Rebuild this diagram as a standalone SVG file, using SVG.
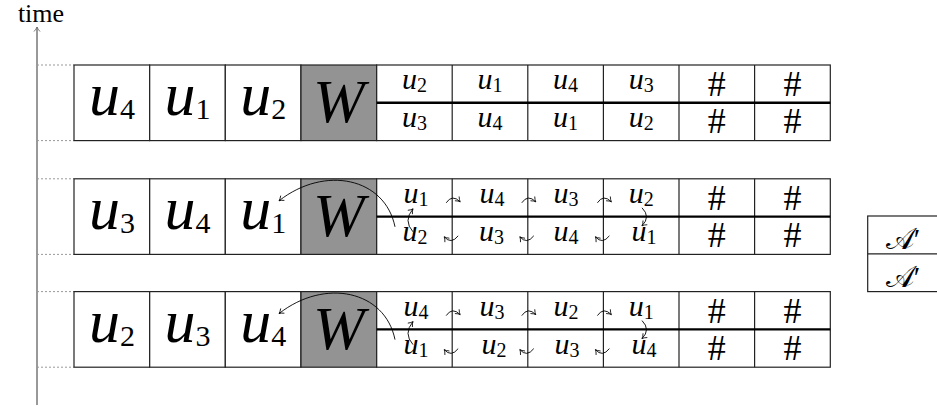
<svg xmlns="http://www.w3.org/2000/svg" width="937" height="406" viewBox="0 0 937 406">
<defs>
<style>
.c{fill:#fff;stroke:#222;stroke-width:1.2}
.w{fill:#939393;stroke:#222;stroke-width:1.2}
.mid{stroke:#000;stroke-width:2.4}
.big{font-size:62px;text-anchor:middle}
.v,.W{font-style:italic}
.big .s{font-size:30px}
.W{font-size:62px;text-anchor:middle}
.sm{font-size:30px;text-anchor:middle}
.sm .s{font-size:20px}
.h{font-size:36px;text-anchor:middle}
.dot{stroke:#999;stroke-width:1;stroke-dasharray:2 2}
.arr{fill:none;stroke:#000;stroke-width:0.9;marker-end:url(#ah)}
</style>
<marker id="ah" viewBox="-6 -4 8 8" refX="0" refY="0" markerWidth="8" markerHeight="8" markerUnits="userSpaceOnUse" orient="auto"><path d="M-4.5,-3 Q-2,-0.6 0,0 Q-2,0.6 -4.5,3" fill="none" stroke="#000" stroke-width="0.8"/></marker>
<marker id="ahg" viewBox="-6 -4 8 8" refX="0" refY="0" markerWidth="8" markerHeight="8" markerUnits="userSpaceOnUse" orient="auto"><path d="M-4.5,-3 Q-2,-0.6 0,0 Q-2,0.6 -4.5,3" fill="none" stroke="#777" stroke-width="1"/></marker>
</defs>
<rect width="937" height="406" fill="#fff"/>
<g font-family="'Liberation Serif', 'Times New Roman', serif" fill="#000">
<g id="axis">
<line x1="37" y1="405" x2="37" y2="27" stroke="#777" stroke-width="1.5" marker-end="url(#ahg)"/>
<text x="41" y="22" font-size="26" text-anchor="middle">time</text>
<line class="dot" x1="37" y1="65" x2="74" y2="65"/>
<line class="dot" x1="37" y1="140.6" x2="74" y2="140.6"/>
<line class="dot" x1="37" y1="178.8" x2="74" y2="178.8"/>
<line class="dot" x1="37" y1="254.4" x2="74" y2="254.4"/>
<line class="dot" x1="37" y1="291.6" x2="74" y2="291.6"/>
<line class="dot" x1="37" y1="367.2" x2="74" y2="367.2"/>
</g>
<g id="row1" transform="translate(0,65)">
<rect class="c" x="74" y="0" width="75.6" height="75.6"/>
<rect class="c" x="149.7" y="0" width="75.6" height="75.6"/>
<rect class="c" x="225.3" y="0" width="75.6" height="75.6"/>
<rect class="w" x="301" y="0" width="75.6" height="75.6"/>
<rect class="c" x="376.7" y="0" width="453.6" height="75.6"/>
<path d="M452.2,0V75.6M527.8,0V75.6M603.4,0V75.6M679,0V75.6M754.6,0V75.6" stroke="#222" stroke-width="1.2"/>
<line class="mid" x1="376.7" y1="37.8" x2="830.3" y2="37.8"/>
<text class="big" x="111.9" y="50"><tspan class="v">u</tspan><tspan class="s" dy="4">4</tspan></text>
<text class="big" x="187.5" y="50"><tspan class="v">u</tspan><tspan class="s" dy="4">1</tspan></text>
<text class="big" x="263.2" y="50"><tspan class="v">u</tspan><tspan class="s" dy="4">2</tspan></text>
<text class="W" x="338.9" y="57">W</text>
<text class="sm" x="414.5" y="24"><tspan class="v">u</tspan><tspan class="s" dy="3">2</tspan></text>
<text class="sm" x="490" y="24"><tspan class="v">u</tspan><tspan class="s" dy="3">1</tspan></text>
<text class="sm" x="565.6" y="24"><tspan class="v">u</tspan><tspan class="s" dy="3">4</tspan></text>
<text class="sm" x="641.2" y="24"><tspan class="v">u</tspan><tspan class="s" dy="3">3</tspan></text>
<text class="sm" x="414.5" y="62.3"><tspan class="v">u</tspan><tspan class="s" dy="3">3</tspan></text>
<text class="sm" x="490" y="62.3"><tspan class="v">u</tspan><tspan class="s" dy="3">4</tspan></text>
<text class="sm" x="565.6" y="62.3"><tspan class="v">u</tspan><tspan class="s" dy="3">1</tspan></text>
<text class="sm" x="641.2" y="62.3"><tspan class="v">u</tspan><tspan class="s" dy="3">2</tspan></text>
<text class="h" x="716.8" y="31">#</text>
<text class="h" x="792.4" y="31">#</text>
<text class="h" x="716.8" y="68">#</text>
<text class="h" x="792.4" y="68">#</text>
</g>
<g id="row2" transform="translate(0,178.8)">
<rect class="c" x="74" y="0" width="75.6" height="75.6"/>
<rect class="c" x="149.7" y="0" width="75.6" height="75.6"/>
<rect class="c" x="225.3" y="0" width="75.6" height="75.6"/>
<rect class="w" x="301" y="0" width="75.6" height="75.6"/>
<rect class="c" x="376.7" y="0" width="453.6" height="75.6"/>
<path d="M452.2,0V75.6M527.8,0V75.6M603.4,0V75.6M679,0V75.6M754.6,0V75.6" stroke="#222" stroke-width="1.2"/>
<line class="mid" x1="376.7" y1="37.8" x2="830.3" y2="37.8"/>
<text class="big" x="111.9" y="50"><tspan class="v">u</tspan><tspan class="s" dy="4">3</tspan></text>
<text class="big" x="187.5" y="50"><tspan class="v">u</tspan><tspan class="s" dy="4">4</tspan></text>
<text class="big" x="263.2" y="50"><tspan class="v">u</tspan><tspan class="s" dy="4">1</tspan></text>
<text class="W" x="338.9" y="57">W</text>
<text class="sm" x="416" y="24"><tspan class="v">u</tspan><tspan class="s" dy="3">1</tspan></text>
<text class="sm" x="492" y="24"><tspan class="v">u</tspan><tspan class="s" dy="3">4</tspan></text>
<text class="sm" x="566" y="24"><tspan class="v">u</tspan><tspan class="s" dy="3">3</tspan></text>
<text class="sm" x="641.2" y="24"><tspan class="v">u</tspan><tspan class="s" dy="3">2</tspan></text>
<text class="sm" x="415" y="62.3"><tspan class="v">u</tspan><tspan class="s" dy="3">2</tspan></text>
<text class="sm" x="491.5" y="62.3"><tspan class="v">u</tspan><tspan class="s" dy="3">3</tspan></text>
<text class="sm" x="566" y="62.3"><tspan class="v">u</tspan><tspan class="s" dy="3">4</tspan></text>
<text class="sm" x="644" y="62.3"><tspan class="v">u</tspan><tspan class="s" dy="3">1</tspan></text>
<text class="h" x="716.8" y="31">#</text>
<text class="h" x="792.4" y="31">#</text>
<text class="h" x="716.8" y="68">#</text>
<text class="h" x="792.4" y="68">#</text>
</g>
<g id="row3" transform="translate(0,291.6)">
<rect class="c" x="74" y="0" width="75.6" height="75.6"/>
<rect class="c" x="149.7" y="0" width="75.6" height="75.6"/>
<rect class="c" x="225.3" y="0" width="75.6" height="75.6"/>
<rect class="w" x="301" y="0" width="75.6" height="75.6"/>
<rect class="c" x="376.7" y="0" width="453.6" height="75.6"/>
<path d="M452.2,0V75.6M527.8,0V75.6M603.4,0V75.6M679,0V75.6M754.6,0V75.6" stroke="#222" stroke-width="1.2"/>
<line class="mid" x1="376.7" y1="37.8" x2="830.3" y2="37.8"/>
<text class="big" x="111.9" y="50"><tspan class="v">u</tspan><tspan class="s" dy="4">2</tspan></text>
<text class="big" x="187.5" y="50"><tspan class="v">u</tspan><tspan class="s" dy="4">3</tspan></text>
<text class="big" x="263.2" y="50"><tspan class="v">u</tspan><tspan class="s" dy="4">4</tspan></text>
<text class="W" x="338.9" y="57">W</text>
<text class="sm" x="416" y="24"><tspan class="v">u</tspan><tspan class="s" dy="3">4</tspan></text>
<text class="sm" x="492" y="24"><tspan class="v">u</tspan><tspan class="s" dy="3">3</tspan></text>
<text class="sm" x="566" y="24"><tspan class="v">u</tspan><tspan class="s" dy="3">2</tspan></text>
<text class="sm" x="641.2" y="24"><tspan class="v">u</tspan><tspan class="s" dy="3">1</tspan></text>
<text class="sm" x="416" y="62.3"><tspan class="v">u</tspan><tspan class="s" dy="3">1</tspan></text>
<text class="sm" x="494" y="62.3"><tspan class="v">u</tspan><tspan class="s" dy="3">2</tspan></text>
<text class="sm" x="567" y="62.3"><tspan class="v">u</tspan><tspan class="s" dy="3">3</tspan></text>
<text class="sm" x="644" y="62.3"><tspan class="v">u</tspan><tspan class="s" dy="3">4</tspan></text>
<text class="h" x="716.8" y="31">#</text>
<text class="h" x="792.4" y="31">#</text>
<text class="h" x="716.8" y="68">#</text>
<text class="h" x="792.4" y="68">#</text>
</g>
<g id="aprime">
<rect class="c" x="867.7" y="216" width="90" height="75.6"/>
<line x1="867.7" y1="253.8" x2="940" y2="253.8" stroke="#222" stroke-width="1.2"/>
<text x="903" y="249" font-size="30" text-anchor="middle">𝒜′</text>
<text x="903" y="287" font-size="30" text-anchor="middle">𝒜′</text>
</g>
<g id="connectors">
<g transform="translate(0,178.8)">
<path class="arr" d="M446.2,24 Q452.2,15 460.2,23"/>
<path class="arr" d="M521.8,24 Q527.8,15 535.8,23"/>
<path class="arr" d="M597.4,24 Q603.4,15 611.4,23"/>
<path class="arr" d="M458.2,57 Q451.2,66 444.2,58"/>
<path class="arr" d="M533.8,57 Q526.8,66 519.8,58"/>
<path class="arr" d="M609.4,57 Q602.4,66 595.4,58"/>
<path class="arr" d="M413,53 Q403,42 413,30"/>
<path class="arr" d="M642,29 Q651,38 642,47"/>
<path class="arr" d="M395,48 C385,-1 325,-14 279,22"/>
</g>
<g transform="translate(0,291.6)">
<path class="arr" d="M446.2,24 Q452.2,15 460.2,23"/>
<path class="arr" d="M521.8,24 Q527.8,15 535.8,23"/>
<path class="arr" d="M597.4,24 Q603.4,15 611.4,23"/>
<path class="arr" d="M458.2,57 Q451.2,66 444.2,58"/>
<path class="arr" d="M533.8,57 Q526.8,66 519.8,58"/>
<path class="arr" d="M609.4,57 Q602.4,66 595.4,58"/>
<path class="arr" d="M413,53 Q403,42 413,30"/>
<path class="arr" d="M642,29 Q651,38 642,47"/>
<path class="arr" d="M395,48 C385,-1 325,-14 279,22"/>
</g>
</g>
</g>
</svg>
